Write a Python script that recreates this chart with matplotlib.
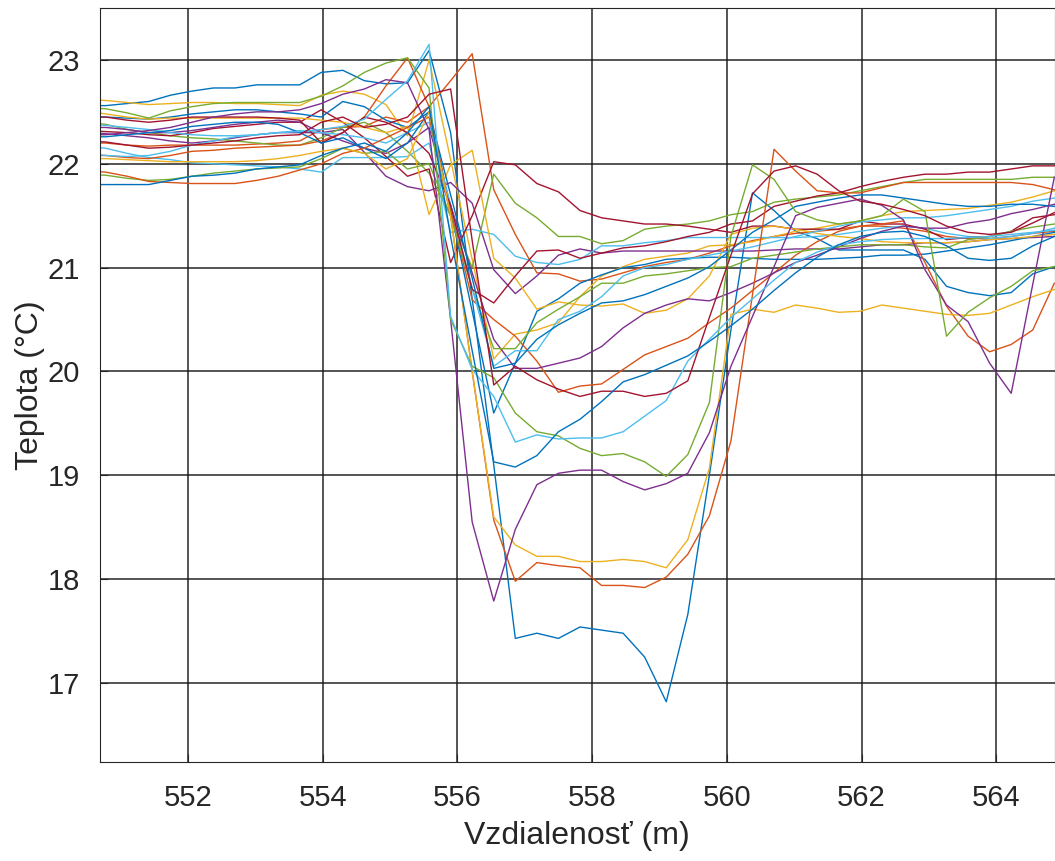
import matplotlib
matplotlib.use("Agg")
import matplotlib.pyplot as plt

# vzdialenost (m), krok 0.32 m
dist = [550.46, 550.78, 551.10, 551.42, 551.74, 552.06, 552.38, 552.70, 553.02, 553.34,
        553.66, 553.98, 554.30, 554.62, 554.94, 555.26, 555.58, 555.90, 556.22, 556.54,
        556.86, 557.18, 557.50, 557.82, 558.14, 558.46, 558.78, 559.10, 559.42, 559.74,
        560.06, 560.38, 560.70, 561.02, 561.34, 561.66, 561.98, 562.30, 562.62, 562.94,
        563.26, 563.58, 563.90, 564.22, 564.54, 564.86]

# teploty (°C)
m01 = [22.56, 22.56, 22.58, 22.60, 22.66, 22.70, 22.73, 22.73, 22.76, 22.76, 22.76, 22.88, 22.90, 22.80, 22.77, 22.78,
       23.09, 22.30, 20.70, 19.10, 17.43, 17.48, 17.43, 17.54, 17.51, 17.48, 17.25, 16.82, 17.66, 19.00, 20.40,
       21.72, 21.55, 21.35, 21.28, 21.17, 21.17, 21.17, 21.17, 21.08, 20.82, 20.76, 20.73, 20.76, 20.94, 21.01]
m02 = [22.20, 22.20, 22.18, 22.17, 22.18, 22.18, 22.18, 22.18, 22.19, 22.20, 22.22, 22.33, 22.35, 22.36, 22.45, 22.40,
       22.55, 22.80, 23.06, 21.75, 21.32, 20.95, 20.94, 20.87, 20.89, 20.95, 21.01, 21.05, 21.08, 21.14, 21.21,
       21.26, 21.30, 21.33, 21.35, 21.37, 21.40, 21.40, 21.38, 21.35, 21.30, 21.28, 21.28, 21.30, 21.33, 21.35]
m03 = [22.62, 22.61, 22.59, 22.57, 22.58, 22.59, 22.59, 22.58, 22.58, 22.57, 22.56, 22.66, 22.70, 22.67, 22.57, 22.27,
       23.00, 22.04, 21.08, 20.12, 20.36, 20.40, 20.47, 20.72, 20.92, 21.01, 21.08, 21.11, 21.14, 21.21, 21.22,
       21.25, 21.30, 21.35, 21.38, 21.42, 21.45, 21.50, 21.54, 21.55, 21.56, 21.57, 21.60, 21.63, 21.68, 21.74]
m04 = [22.30, 22.29, 22.27, 22.25, 22.22, 22.20, 22.22, 22.25, 22.28, 22.30, 22.30, 22.30, 22.33, 22.11, 21.88, 21.78,
       21.74, 21.82, 21.62, 20.98, 20.75, 20.92, 21.12, 21.18, 21.14, 21.16, 21.16, 21.16, 21.16, 21.16, 21.16,
       21.16, 21.17, 21.18, 21.18, 21.18, 21.20, 21.22, 21.22, 21.24, 21.24, 21.25, 21.27, 21.28, 21.29, 21.30]
m05 = [22.40, 22.38, 22.33, 22.30, 22.27, 22.25, 22.24, 22.22, 22.20, 22.18, 22.18, 22.25, 22.35, 22.40, 22.30, 22.12,
       21.91, 21.50, 21.00, 21.90, 21.62, 21.48, 21.30, 21.30, 21.23, 21.26, 21.37, 21.40, 21.42, 21.45, 21.51,
       21.54, 21.63, 21.66, 21.68, 21.70, 21.74, 21.78, 21.82, 21.85, 21.85, 21.85, 21.85, 21.85, 21.87, 21.87]
m06 = [22.17, 22.15, 22.10, 22.06, 22.04, 22.01, 22.00, 21.99, 21.98, 21.97, 21.95, 21.92, 22.06, 22.06, 22.06, 22.07,
       22.20, 21.34, 21.37, 21.32, 21.11, 21.05, 21.03, 21.08, 21.21, 21.21, 21.24, 21.26, 21.29, 21.29, 21.29,
       21.29, 21.29, 21.29, 21.30, 21.32, 21.35, 21.38, 21.40, 21.38, 21.33, 21.30, 21.28, 21.30, 21.33, 21.38]
m07 = [22.32, 22.31, 22.30, 22.28, 22.27, 22.30, 22.34, 22.36, 22.38, 22.40, 22.40, 22.52, 22.40, 22.25, 22.07, 21.88,
       21.95, 21.05, 21.50, 22.02, 21.99, 21.81, 21.73, 21.55, 21.48, 21.45, 21.42, 21.42, 21.40, 21.37, 21.34,
       21.40, 21.40, 21.37, 21.37, 21.37, 21.45, 21.42, 21.42, 21.37, 21.27, 21.29, 21.30, 21.35, 21.48, 21.51]
m08 = [22.45, 22.45, 22.44, 22.43, 22.45, 22.48, 22.50, 22.52, 22.52, 22.50, 22.48, 22.45, 22.60, 22.55, 22.42, 22.35,
       22.50, 21.55, 20.58, 19.60, 20.08, 20.58, 20.70, 20.85, 20.93, 21.00, 21.03, 21.08, 21.09, 21.10, 21.10,
       21.09, 21.08, 21.08, 21.08, 21.09, 21.10, 21.12, 21.12, 21.13, 21.16, 21.19, 21.22, 21.26, 21.30, 21.34]
m09 = [22.08, 22.08, 22.06, 22.05, 22.08, 22.12, 22.13, 22.15, 22.16, 22.17, 22.18, 22.22, 22.30, 22.45, 22.75, 23.02,
       22.55, 21.55, 20.69, 20.50, 20.34, 20.10, 19.80, 19.86, 19.88, 20.02, 20.16, 20.24, 20.32, 20.47, 20.61,
       20.78, 20.95, 21.12, 21.25, 21.35, 21.40, 21.42, 21.45, 21.05, 20.63, 20.34, 20.19, 20.26, 20.40, 20.85]
m10 = [22.51, 22.48, 22.45, 22.43, 22.44, 22.44, 22.44, 22.44, 22.44, 22.44, 22.44, 22.42, 22.40, 22.35, 22.30, 22.36,
       21.51, 21.99, 22.13, 21.09, 20.90, 20.60, 20.67, 20.64, 20.63, 20.65, 20.56, 20.59, 20.70, 20.92, 21.32,
       21.38, 21.40, 21.37, 21.33, 21.30, 21.28, 21.25, 21.24, 21.24, 21.24, 21.25, 21.27, 21.28, 21.30, 21.32]
m11 = [22.35, 22.35, 22.33, 22.30, 22.30, 22.32, 22.35, 22.38, 22.40, 22.42, 22.40, 22.30, 22.22, 22.15, 22.10, 22.20,
       22.35, 21.60, 20.95, 20.31, 20.03, 20.03, 20.08, 20.13, 20.24, 20.42, 20.56, 20.64, 20.70, 20.68, 20.76,
       20.85, 20.95, 21.05, 21.12, 21.20, 21.28, 21.35, 21.40, 21.38, 21.38, 21.43, 21.46, 21.52, 21.56, 21.61]
m12 = [21.90, 21.89, 21.86, 21.84, 21.85, 21.88, 21.91, 21.93, 21.95, 21.96, 21.97, 22.05, 22.15, 22.10, 22.12, 21.95,
       22.00, 21.50, 20.80, 20.22, 20.22, 20.47, 20.60, 20.72, 20.85, 20.85, 20.92, 20.94, 20.97, 21.00, 21.01,
       21.09, 21.12, 21.15, 21.18, 21.20, 21.22, 21.22, 21.22, 21.20, 21.19, 21.27, 21.30, 21.35, 21.39, 21.42]
m13 = [22.38, 22.37, 22.35, 22.33, 22.30, 22.28, 22.27, 22.27, 22.28, 22.30, 22.32, 22.30, 22.28, 22.25, 22.20, 22.30,
       22.40, 21.60, 20.80, 20.05, 20.20, 20.20, 20.50, 20.58, 20.72, 20.92, 21.00, 21.03, 21.08, 21.12, 21.16,
       21.20, 21.25, 21.30, 21.35, 21.40, 21.44, 21.46, 21.48, 21.48, 21.50, 21.53, 21.56, 21.59, 21.64, 21.67]
m14 = [22.45, 22.45, 22.42, 22.40, 22.42, 22.45, 22.45, 22.45, 22.45, 22.44, 22.42, 22.20, 22.30, 22.45, 22.40, 22.30,
       22.10, 21.60, 20.79, 20.66, 20.92, 21.16, 21.17, 21.09, 21.14, 21.19, 21.21, 21.25, 21.30, 21.34, 21.42,
       21.45, 21.59, 21.64, 21.69, 21.72, 21.78, 21.83, 21.87, 21.90, 21.90, 21.92, 21.92, 21.95, 21.98, 21.98]
m15 = [22.26, 22.26, 22.28, 22.30, 22.32, 22.36, 22.38, 22.40, 22.40, 22.38, 22.30, 22.20, 22.25, 22.15, 22.05, 22.20,
       22.50, 21.70, 20.90, 20.03, 20.08, 20.31, 20.45, 20.56, 20.66, 20.68, 20.74, 20.82, 20.90, 21.01, 21.17,
       21.34, 21.46, 21.59, 21.63, 21.67, 21.70, 21.70, 21.67, 21.64, 21.61, 21.59, 21.59, 21.61, 21.61, 21.59]
m16 = [21.93, 21.92, 21.88, 21.83, 21.82, 21.81, 21.81, 21.81, 21.84, 21.88, 21.94, 22.00, 22.10, 22.15, 22.25, 22.35,
       22.45, 21.50, 20.00, 18.57, 17.98, 18.16, 18.13, 18.11, 17.94, 17.94, 17.92, 18.02, 18.24, 18.61, 19.33,
       20.74, 22.14, 21.93, 21.74, 21.72, 21.72, 21.77, 21.82, 21.82, 21.82, 21.82, 21.82, 21.82, 21.80, 21.75]
m17 = [22.05, 22.05, 22.04, 22.03, 22.02, 22.02, 22.02, 22.02, 22.03, 22.05, 22.08, 22.12, 22.15, 22.10, 21.95, 22.05,
       22.50, 21.50, 20.00, 18.60, 18.33, 18.22, 18.22, 18.17, 18.17, 18.19, 18.17, 18.11, 18.38, 19.07, 20.55,
       20.60, 20.57, 20.64, 20.61, 20.57, 20.58, 20.64, 20.61, 20.58, 20.55, 20.54, 20.56, 20.64, 20.72, 20.79]
m18 = [22.28, 22.28, 22.30, 22.32, 22.35, 22.40, 22.45, 22.48, 22.50, 22.50, 22.52, 22.58, 22.67, 22.72, 22.81, 22.78,
       22.33, 20.50, 18.55, 17.79, 18.48, 18.91, 19.02, 19.05, 19.05, 18.94, 18.86, 18.92, 19.02, 19.41, 20.05,
       20.53, 21.01, 21.50, 21.58, 21.62, 21.66, 21.60, 21.46, 20.98, 20.64, 20.48, 20.08, 19.79, 20.84, 21.87]
m19 = [22.54, 22.53, 22.49, 22.44, 22.51, 22.55, 22.58, 22.59, 22.59, 22.59, 22.59, 22.65, 22.75, 22.88, 22.97, 23.02,
       22.73, 20.50, 20.05, 19.94, 19.60, 19.42, 19.38, 19.26, 19.19, 19.21, 19.13, 18.99, 19.20, 19.70, 21.30,
       21.99, 21.85, 21.54, 21.46, 21.42, 21.45, 21.50, 21.66, 21.54, 20.34, 20.57, 20.71, 20.82, 20.97, 21.01]
m20 = [22.10, 22.08, 22.07, 22.08, 22.12, 22.18, 22.22, 22.26, 22.28, 22.30, 22.31, 22.33, 22.36, 22.43, 22.62, 22.80,
       23.15, 20.53, 20.02, 19.76, 19.32, 19.39, 19.35, 19.36, 19.36, 19.42, 19.57, 19.72, 20.10, 20.31, 20.52,
       20.70, 20.88, 21.05, 21.15, 21.22, 21.25, 21.27, 21.28, 21.28, 21.28, 21.29, 21.30, 21.32, 21.34, 21.36]
m21 = [22.22, 22.21, 22.18, 22.15, 22.16, 22.18, 22.20, 22.22, 22.25, 22.27, 22.28, 22.40, 22.45, 22.35, 22.38, 22.45,
       22.67, 22.72, 21.26, 19.87, 20.05, 19.92, 19.83, 19.76, 19.81, 19.81, 19.76, 19.79, 19.91, 20.52, 21.12,
       21.71, 21.93, 21.98, 21.90, 21.74, 21.64, 21.61, 21.56, 21.50, 21.40, 21.34, 21.32, 21.34, 21.43, 21.53]
m22 = [21.80, 21.80, 21.80, 21.80, 21.84, 21.88, 21.89, 21.91, 21.95, 21.97, 21.99, 22.08, 22.15, 22.20, 22.12, 22.30,
       22.55, 21.30, 20.20, 19.13, 19.08, 19.19, 19.42, 19.54, 19.71, 19.90, 19.97, 20.06, 20.15, 20.29, 20.44,
       20.60, 20.78, 20.95, 21.10, 21.22, 21.30, 21.34, 21.35, 21.30, 21.21, 21.09, 21.07, 21.09, 21.21, 21.30]

merania = [m01, m02, m03, m04, m05, m06, m07, m08, m09, m10, m11,
           m12, m13, m14, m15, m16, m17, m18, m19, m20, m21, m22]

# farby ako v MATLABe
farby = ['#0072BD', '#D95319', '#EDB120', '#7E2F8E', '#77AC30', '#4DBEEE', '#A2142F']

plt.rcParams['font.family'] = ['Liberation Sans', 'DejaVu Sans']

fig = plt.figure(figsize=(10.55, 8.61), dpi=100)
ax = fig.add_axes([0.0944, 0.115, 0.9056, 0.8757])

for i, m in enumerate(merania):
    ax.plot(dist, m, color=farby[i % 7], lw=1.0)

ax.set_xlim(550.69, 564.87)
ax.set_ylim(16.24, 23.5)
ax.set_xticks([552, 554, 556, 558, 560, 562, 564])
ax.set_yticks([17, 18, 19, 20, 21, 22, 23])
ax.grid(True, color='#1a1a1a', lw=1.1, alpha=0.95)
ax.tick_params(direction='in', length=6, labelsize=21, colors='#262626', pad=14)
ax.tick_params(axis='x', pad=16)
for s in ax.spines.values():
    s.set_color('#262626')
ax.set_xlabel('Vzdialenosť (m)', fontsize=23, color='#262626', labelpad=6)
ax.set_ylabel('Teplota (°C)', fontsize=23, color='#262626', labelpad=2)

fig.savefig('out.png', dpi=100)
